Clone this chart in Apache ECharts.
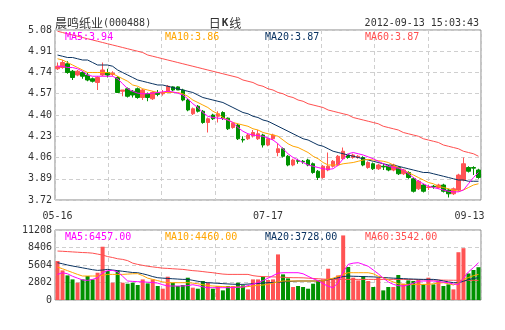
<!DOCTYPE html>
<html><head><meta charset="utf-8">
<script src="https://cdn.jsdelivr.net/npm/echarts@6/dist/echarts.min.js"></script>
<style>html,body{margin:0;padding:0;background:#fff}#c{width:505px;height:330px}</style>
</head><body><div id="c"></div>
<script>
const dates = ['05-16','05-17','05-18','05-21','05-22','05-23','05-24','05-25','05-28','05-29','05-30','05-31',
'06-01','06-04','06-05','06-06','06-07','06-08','06-11','06-12','06-13','06-14','06-15','06-18','06-19','06-20','06-21','06-25','06-26','06-27','06-28',
'07-02','07-03','07-04','07-05','07-06','07-09','07-10','07-11','07-12','07-13','07-16','07-17',
'07-18','07-19','07-20','07-23','07-24','07-25','07-26','07-27','07-30','07-31',
'08-01','08-02','08-03','08-06','08-07','08-08','08-09','08-10','08-13','08-14','08-15','08-16','08-17','08-20','08-21','08-22','08-23','08-24','08-27','08-28','08-29','08-30','08-31',
'09-03','09-04','09-05','09-06','09-07','09-10','09-11','09-12','09-13'];
const xTickLabels = ['05-16','07-17','09-13'];
const priceTickLabels = ['3.72','3.89','4.06','4.23','4.40','4.57','4.74','4.91','5.08'];
const volTickLabels = ['0','2802','5604','8406','11208'];

const open  = [4.77,4.78,4.81,4.75,4.72,4.74,4.72,4.69,4.66,4.72,4.74,4.725,4.70,4.59,4.61,4.59,4.61,4.54,4.57,4.53,4.575,4.57,4.59,4.625,4.625,4.60,4.52,4.41,4.47,4.43,4.34,4.40,4.39,4.42,4.375,4.30,4.32,4.205,4.21,4.235,4.21,4.24,4.16,
4.21,4.10,4.13,4.07,4.00,4.035,4.03,4.04,4.01,3.95,3.90,3.96,3.99,4.00,4.05,4.08,4.06,4.06,4.06,3.98,4.01,3.97,3.99,3.99,3.96,3.98,3.93,3.94,3.89,3.81,3.84,3.82,3.83,3.82,3.84,3.80,3.77,3.80,3.88,3.98,3.98,3.96];
const close = [4.79,4.82,4.74,4.70,4.75,4.71,4.68,4.67,4.70,4.76,4.72,4.735,4.58,4.60,4.55,4.56,4.54,4.60,4.54,4.58,4.565,4.58,4.63,4.60,4.60,4.52,4.44,4.45,4.43,4.34,4.37,4.37,4.41,4.375,4.29,4.335,4.21,4.20,4.24,4.26,4.25,4.16,4.21,
4.24,4.13,4.07,4.00,4.04,4.03,4.025,4.00,3.94,3.90,3.99,3.99,4.03,4.07,4.11,4.06,4.08,4.07,4.00,4.02,3.97,4.00,3.985,3.96,4.00,3.93,3.96,3.90,3.79,3.87,3.79,3.825,3.825,3.84,3.79,3.77,3.81,3.92,4.01,3.95,3.975,3.90];
const low   = [4.76,4.77,4.73,4.68,4.71,4.69,4.67,4.66,4.60,4.71,4.70,4.71,4.58,4.55,4.54,4.54,4.53,4.52,4.51,4.52,4.55,4.555,4.58,4.59,4.60,4.51,4.43,4.40,4.42,4.33,4.26,4.36,4.34,4.36,4.28,4.29,4.20,4.18,4.20,4.22,4.20,4.14,4.15,
4.20,4.07,4.06,3.99,3.99,4.01,4.01,3.99,3.93,3.88,3.89,3.95,3.98,3.99,4.04,4.05,4.05,4.05,3.99,3.97,3.96,3.96,3.96,3.95,3.95,3.92,3.92,3.89,3.78,3.80,3.78,3.80,3.81,3.81,3.78,3.74,3.76,3.79,3.87,3.94,3.92,3.89];
const high  = [4.82,4.84,4.83,4.76,4.76,4.75,4.74,4.70,4.71,4.82,4.77,4.75,4.71,4.60,4.62,4.60,4.62,4.61,4.58,4.59,4.60,4.60,4.64,4.63,4.63,4.61,4.53,4.46,4.48,4.44,4.38,4.41,4.43,4.43,4.38,4.34,4.33,4.23,4.25,4.28,4.28,4.25,4.22,
4.25,4.17,4.14,4.08,4.05,4.05,4.04,4.05,4.02,3.96,4.00,4.10,4.04,4.08,4.14,4.09,4.09,4.08,4.07,4.03,4.02,4.01,4.01,4.00,4.01,3.99,3.97,3.95,3.90,3.88,3.85,3.84,3.84,3.85,3.85,3.81,3.82,3.93,4.06,3.99,3.99,3.97];

const ma5  = [4.79,4.79,4.78,4.78,4.77,4.75,4.72,4.71,4.71,4.71,4.71,4.71,4.69,4.65,4.61,4.59,4.575,4.57,4.57,4.575,4.58,4.585,4.59,4.585,4.575,4.56,4.53,4.49,4.46,4.42,4.39,4.38,4.375,4.37,4.36,4.34,4.30,4.27,4.25,4.24,4.235,4.23,4.215,
4.20,4.17,4.13,4.09,4.06,4.04,4.02,4.00,3.99,3.98,3.97,3.965,3.97,4.00,4.05,4.09,4.10,4.09,4.08,4.065,4.05,4.03,4.01,3.99,3.98,3.975,3.96,3.93,3.90,3.87,3.85,3.83,3.82,3.81,3.80,3.79,3.785,3.785,3.80,3.85,3.90,3.94];
const ma10 = [4.85,4.84,4.82,4.80,4.78,4.76,4.74,4.74,4.74,4.74,4.74,4.73,4.71,4.69,4.67,4.64,4.63,4.61,4.60,4.59,4.58,4.58,4.58,4.58,4.58,4.57,4.55,4.52,4.50,4.48,4.46,4.43,4.41,4.38,4.36,4.34,4.33,4.32,4.31,4.29,4.28,4.26,4.25,
4.24,4.23,4.20,4.17,4.15,4.14,4.12,4.10,4.07,4.05,4.02,4.00,4.00,4.00,4.01,4.015,4.02,4.03,4.04,4.045,4.04,4.035,4.03,4.02,4.00,3.98,3.96,3.94,3.92,3.90,3.88,3.86,3.85,3.83,3.82,3.81,3.80,3.79,3.80,3.82,3.84,3.85];
const ma20 = [4.88,4.87,4.86,4.86,4.85,4.84,4.84,4.82,4.80,4.80,4.80,4.79,4.76,4.74,4.72,4.70,4.68,4.67,4.66,4.65,4.64,4.64,4.63,4.62,4.61,4.60,4.59,4.58,4.56,4.54,4.53,4.52,4.51,4.50,4.48,4.46,4.44,4.42,4.41,4.39,4.38,4.36,4.35,
4.33,4.31,4.29,4.27,4.25,4.23,4.21,4.20,4.18,4.16,4.15,4.13,4.11,4.10,4.09,4.08,4.07,4.06,4.05,4.04,4.03,4.02,4.01,4.00,4.00,3.99,3.98,3.97,3.96,3.95,3.94,3.94,3.93,3.92,3.91,3.90,3.89,3.88,3.88,3.87,3.87,3.87];
const ma60 = [5.07,5.06,5.05,5.04,5.03,5.02,5.01,5.00,4.99,4.98,4.97,4.96,4.95,4.94,4.93,4.92,4.91,4.90,4.88,4.87,4.86,4.85,4.84,4.83,4.82,4.81,4.80,4.79,4.78,4.77,4.76,4.75,4.74,4.73,4.72,4.71,4.70,4.68,4.67,4.66,4.64,4.63,4.61,
4.60,4.58,4.57,4.55,4.54,4.52,4.51,4.49,4.48,4.47,4.46,4.44,4.43,4.42,4.41,4.40,4.38,4.37,4.36,4.35,4.34,4.33,4.31,4.30,4.29,4.28,4.26,4.25,4.24,4.23,4.21,4.20,4.19,4.18,4.16,4.15,4.14,4.13,4.11,4.10,4.09,4.07];

const volume = [6240,4740,3940,3300,2770,3300,3840,3300,4370,8530,4640,2770,4740,2770,2610,2770,2400,3300,2660,3300,2240,1810,3730,2770,2240,2400,3570,1970,1810,3040,2770,1810,2240,1540,2240,2240,2770,2350,1700,3300,3300,3730,3200,
3300,7300,4100,3460,2080,2240,2080,1810,2610,3140,3300,5010,3300,3940,10340,5280,3570,3140,3840,3040,2080,3570,1540,2080,2080,4000,2610,3140,3040,3300,2500,3570,2500,3040,2240,2500,1700,7650,8300,4250,4800,5250];
const volMa5  = [4100,4370,4200,3800,3500,3200,3140,3300,3570,4400,4700,4740,4500,3800,3040,2980,2930,2900,2850,2800,2700,2450,2240,2240,2240,2240,2300,2450,2300,2100,1970,1970,1970,1970,1970,2000,2050,2080,2300,2550,2800,3100,3500,
3900,4300,4370,4370,4370,4370,4200,3800,3400,3100,2600,2200,1970,2800,4500,5700,5900,5970,5700,5400,4800,4200,3500,2900,2500,2300,2240,2400,2700,3000,3040,3040,3040,2950,2850,2770,2550,2500,3500,4500,5200,5970];
const volMa10 = [5280,5000,4700,4400,4100,3840,3840,3840,3840,3950,4100,4100,4100,4100,4150,4200,4220,3900,3500,3300,3100,2900,2770,2770,2770,2770,2770,2700,2600,2450,2300,2240,2200,2150,2100,2080,2080,2080,2150,2250,2350,2400,2500,
2700,2900,3040,3040,3040,3040,3040,3040,3040,3040,3100,3300,3500,3800,4100,4370,4370,4370,4370,4370,4200,3800,3570,3200,2900,2600,2500,2500,2500,2500,2500,2500,2600,2700,2770,2600,2400,2800,3300,3600,3900,4100];
const volMa20 = [5970,5800,5600,5440,5300,5150,5000,4850,4740,4800,4900,4800,4700,4600,4500,4400,4370,4200,4000,3750,3570,3500,3450,3400,3350,3300,3300,3150,3000,2850,2770,2720,2670,2620,2570,2530,2500,2500,2550,2600,2650,2700,2770,
2800,2850,2900,2950,3000,3040,3040,3040,3040,3040,3100,3250,3400,3570,3750,3840,3800,3780,3750,3730,3700,3650,3600,3550,3500,3460,3420,3380,3350,3320,3300,3300,3300,3200,3050,2900,2770,2770,3000,3250,3450,3570];
const volMa60 = [7840,7800,7750,7700,7650,7600,7570,7500,7350,7200,6950,6800,6600,6500,6300,5900,5700,5550,5400,5300,5200,5100,5060,5000,4950,4900,4800,4700,4640,4550,4450,4370,4250,4150,4100,4100,4100,4100,4100,3900,3800,3750,3720,
3700,3680,3650,3600,3570,3570,3550,3500,3450,3400,3350,3300,3300,3300,3300,3300,3300,3300,3300,3300,3300,3300,3300,3300,3300,3300,3300,3280,3260,3250,3240,3220,3200,3200,3180,3170,3160,3150,3150,3140,3140,3140];

const priceMaLabels = ['MA5:3.94','MA10:3.86','MA20:3.87','MA60:3.87'];
const volMaLabels = ['MA5:6457.00','MA10:4460.00','MA20:3728.00','MA60:3542.00'];
const titleName = '晨鸣纸业';
const titleCode = '(000488)';
const titleTime = '2012-09-13 15:03:43';

const UP = '#ff5454', DOWN = '#009100';
const maColors = ['#ff00ff', '#ffa500', '#0a3361', '#ff4f4f'];
const MONO = 'DejaVu Sans Mono';
const CJK = 'Noto Sans CJK SC';

const chart = echarts.init(document.getElementById('c'), null, {renderer: 'canvas'});
const candleData = dates.map((d, i) => [open[i], close[i], low[i], high[i]]);
const volData = volume.map((v, i) => ({value: v, itemStyle: {color: close[i] >= open[i] ? UP : DOWN}}));

const pMin = parseFloat(priceTickLabels[0]), pMax = parseFloat(priceTickLabels[priceTickLabels.length - 1]);
const pStep = parseFloat(priceTickLabels[1]) - pMin;
const vMin = parseFloat(volTickLabels[0]), vMax = parseFloat(volTickLabels[volTickLabels.length - 1]);
const vStep = parseFloat(volTickLabels[1]) - vMin;

const dashed = {show: true, lineStyle: {color: '#cfcfcf', type: [4, 3], width: 1}};
const gridL = 55, gridR = 24;

function maLine(name, data, color, xi, yi) {
  return {name, type: 'line', data, xAxisIndex: xi, yAxisIndex: yi, symbol: 'none', silent: true,
    lineStyle: {color, width: 1}, itemStyle: {color}, animation: false, z: 3};
}

const graphics = [
  {type: 'text', x: 55, y: 23, style: {text: '{cn|' + titleName + '}{m|' + titleCode + '}', verticalAlign: 'middle',
    rich: {cn: {fontFamily: CJK, fontSize: 12, fill: '#333'}, m: {fontFamily: MONO, fontSize: 10, fill: '#333'}}}},
  {type: 'text', x: 225, y: 23, style: {text: '{cn|日}{k|K}{cn|线}', align: 'center', verticalAlign: 'middle',
    rich: {cn: {fontFamily: CJK, fontSize: 12, fill: '#333'}, k: {fontFamily: MONO, fontSize: 11, fontWeight: 'bold', fill: '#333', padding: [0, 1, 0, 1]}}}},
  {type: 'text', x: 479, y: 23, style: {text: titleTime, align: 'right', verticalAlign: 'middle', fontFamily: MONO, fontSize: 10, fill: '#333'}}
];
const labelX = [65, 165, 265, 365];
priceMaLabels.forEach((t, i) => graphics.push({type: 'text', x: labelX[i], y: 37, z: 10,
  style: {text: t, verticalAlign: 'middle', fontFamily: MONO, fontSize: 10, fill: maColors[i]}}));
volMaLabels.forEach((t, i) => graphics.push({type: 'text', x: labelX[i], y: 237, z: 10,
  style: {text: t, verticalAlign: 'middle', fontFamily: MONO, fontSize: 10, fill: maColors[i]}}));

const option = {
  animation: false,
  backgroundColor: '#fff',
  grid: [
    {left: gridL, right: gridR, top: 30, height: 170, show: true, borderColor: '#888', borderWidth: 1, backgroundColor: 'transparent'},
    {left: gridL, right: gridR, top: 230, height: 70, show: true, borderColor: '#888', borderWidth: 1, backgroundColor: 'transparent'}
  ],
  xAxis: [
    {type: 'category', gridIndex: 0, data: dates, boundaryGap: true,
      axisLine: {show: false}, axisTick: {show: false}, splitLine: {show: false},
      axisLabel: {show: true, margin: 11, fontFamily: MONO, fontSize: 10, color: '#333',
        interval: (idx, val) => xTickLabels.indexOf(val) >= 0,
        formatter: (val) => val === dates[dates.length - 1] ? '{r|' + val + '}' : val,
        rich: {r: {fontFamily: MONO, fontSize: 10, color: '#333', padding: [0, 18, 0, 0]}}}},
    {type: 'category', gridIndex: 1, data: dates, boundaryGap: true,
      axisLine: {show: false}, axisTick: {show: false}, axisLabel: {show: false}, splitLine: {show: false}},
    {type: 'value', gridIndex: 0, min: 0, max: 8, interval: 1, axisLine: {show: false}, axisTick: {show: false},
      axisLabel: {show: false}, splitLine: dashed},
    {type: 'value', gridIndex: 1, min: 0, max: 8, interval: 1, axisLine: {show: false}, axisTick: {show: false},
      axisLabel: {show: false}, splitLine: dashed}
  ],
  yAxis: [
    {type: 'value', gridIndex: 0, min: pMin, max: pMax, interval: pStep, scale: true,
      axisLine: {show: false}, axisTick: {show: false}, splitLine: dashed,
      axisLabel: {margin: 3, fontFamily: MONO, fontSize: 10, color: '#333', formatter: v => v.toFixed(2)}},
    {type: 'value', gridIndex: 1, min: vMin, max: vMax, interval: vStep,
      axisLine: {show: false}, axisTick: {show: false}, splitLine: dashed,
      axisLabel: {margin: 3, fontFamily: MONO, fontSize: 10, color: '#333', formatter: v => String(Math.round(v))}}
  ],
  graphic: graphics,
  series: [
    {type: 'candlestick', xAxisIndex: 0, yAxisIndex: 0, data: candleData, barWidth: 4,
      itemStyle: {color: UP, color0: DOWN, borderColor: UP, borderColor0: DOWN, borderWidth: 1}},
    maLine('MA60', ma60, maColors[3], 0, 0),
    maLine('MA20', ma20, maColors[2], 0, 0),
    maLine('MA10', ma10, maColors[1], 0, 0),
    maLine('MA5', ma5, maColors[0], 0, 0),
    {type: 'bar', xAxisIndex: 1, yAxisIndex: 1, data: volData, barWidth: 4},
    maLine('VMA60', volMa60, maColors[3], 1, 1),
    maLine('VMA20', volMa20, maColors[2], 1, 1),
    maLine('VMA10', volMa10, maColors[1], 1, 1),
    maLine('VMA5', volMa5, maColors[0], 1, 1)
  ]
};
chart.setOption(option);
</script>
</body></html>
